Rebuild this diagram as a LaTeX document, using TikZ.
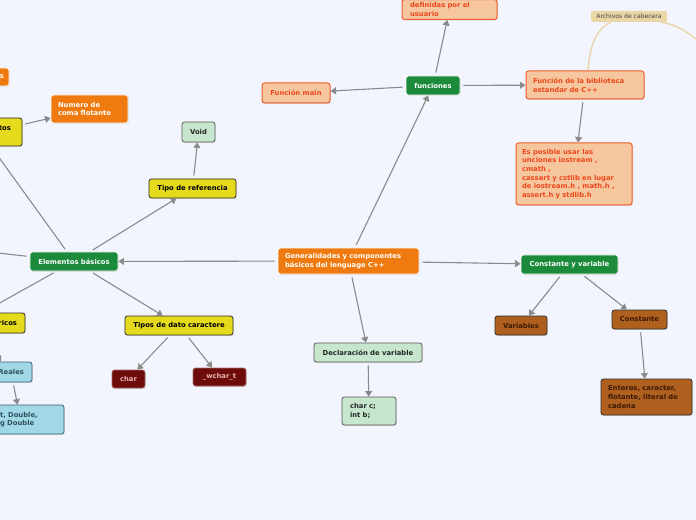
\documentclass[tikz,border=0pt]{standalone}
\usepackage{fontspec}
\setmainfont{DejaVu Sans}
\usetikzlibrary{arrows.meta,shadows}
\definecolor{bg}{HTML}{F2F5FD}
\definecolor{orng}{HTML}{EF7A10}
\definecolor{grn}{HTML}{1B8A3A}
\definecolor{yel}{HTML}{E6DA1C}
\definecolor{lgrn}{HTML}{C6E7CD}
\definecolor{peach}{HTML}{F6C79E}
\definecolor{peachline}{HTML}{EF5A2A}
\definecolor{peachtext}{HTML}{EC471C}
\definecolor{brwn}{HTML}{B0601E}
\definecolor{brwntext}{HTML}{3B1A05}
\definecolor{dred}{HTML}{6E0B0B}
\definecolor{dredtext}{HTML}{E6B4B4}
\definecolor{lblue}{HTML}{A0D8E6}
\definecolor{lbluetext}{HTML}{2F4F5F}
\definecolor{lblueline}{HTML}{3E5E70}
\definecolor{tan}{HTML}{EBD7A6}
\definecolor{tanline}{HTML}{EBD4A8}
\definecolor{conn}{HTML}{8A8A8A}
\definecolor{darkedge}{HTML}{2E2E2E}
\tikzset{
  base/.style={rounded corners=2.5bp, line width=0.8bp, inner xsep=7bp, inner ysep=2bp,
    anchor=center, drop shadow={shadow xshift=0.7bp, shadow yshift=-0.9bp, opacity=0.25}},
  orangebox/.style={base, fill=orng, draw=white, text=white},
  greenbox/.style={base, fill=grn, draw=white, text=white},
  yellowbox/.style={base, fill=yel, draw=darkedge, text=black},
  lgreenbox/.style={base, fill=lgrn, draw=darkedge!80, text=black!85},
  peachbox/.style={base, fill=peach, draw=peachline, text=peachtext, line width=1bp},
  brownbox/.style={base, fill=brwn, draw=darkedge, text=brwntext},
  redbox/.style={base, fill=dred, draw=dred!60!white, text=dredtext},
  bluebox/.style={base, fill=lblue, draw=lblueline, text=lbluetext},
  tagbox/.style={rounded corners=1.5bp, fill=tan, inner xsep=2bp, inner ysep=1bp,
    font=\fontsize{6.1}{7}\selectfont, text=black!75},
  conn/.style={draw=conn, line width=1.1bp, shorten <=3bp,
    -{Triangle[length=5.5bp, width=7bp]}},
  tanconn/.style={draw=tanline, line width=1.4bp}
}
\begin{document}
\begin{tikzpicture}[x=1bp, y=-1bp, font=\fontsize{6.85}{8.7}\selectfont\bfseries]
\useasboundingbox (0,0) rectangle (696,520);
\clip (0,0) rectangle (696,520);
\fill[bg] (0,0) rectangle (696,520);

% central
\node[orangebox, align=left, text width=127bp, inner xsep=7bp, minimum height=26bp] (gen) at (348.5,261) {Generalidades y componentes\\básicos del lenguage C++};

% top branch
\node[greenbox, minimum width=54bp, minimum height=19bp] (fun) at (433,85.5) {funciones};
\node[peachbox, minimum width=68bp, minimum height=20bp] (main) at (296,93) {Función main};
\node[peachbox, align=left, text width=79bp, inner xsep=8bp, anchor=south, inner ysep=3bp] (def) at (449.5,20) {definidas por el\\usuario};
\node[peachbox, align=left, text width=104bp, inner xsep=7bp, minimum height=28bp] (bib) at (585,85) {Función de la biblioteca\\estandar de C++};
\node[peachbox, align=left, text width=104bp, inner xsep=6bp, minimum height=62bp] (pos) at (574,174) {Es posible usar las\\unciones iostream ,\\cmath ,\\cassert y cstlib en lugar\\de iostream.h , math.h ,\\assert.h y stdlib.h};
\node[tagbox, minimum width=76bp, minimum height=11bp] (arch) at (629,16.5) {Archivos de cabecera};
\coordinate (archend) at (708,50);

% right branch
\node[greenbox, minimum width=97bp, minimum height=19bp] (cyv) at (569.5,264.5) {Constante y variable};
\node[brownbox, minimum width=52bp, minimum height=19bp] (var) at (521,325.5) {Variables};
\node[brownbox, minimum width=55bp, minimum height=19bp] (cons) at (639.5,319.5) {Constante};
\node[brownbox, align=left, text width=77bp, inner xsep=7bp, minimum height=36bp] (ent) at (646.5,397) {Enteros, caracter,\\flotante, literal de\\cadena};

% bottom branch
\node[lgreenbox, minimum width=108bp, minimum height=19bp] (decl) at (368,352.5) {Declaración de variable};
\node[lgreenbox, align=left, text width=38bp, inner xsep=8bp, minimum height=28bp] (cc) at (369,411) {char c;\\int b;};

% left branch
\node[greenbox, minimum width=88bp, minimum height=19bp] (elem) at (74,261.5) {Elementos básicos};
\node[yellowbox, minimum width=87bp, minimum height=19bp] (tref) at (192.5,188.5) {Tipo de referencia};
\node[lgreenbox, minimum width=33bp, minimum height=20bp] (void) at (198.5,132) {Void};
\node[yellowbox, minimum width=108bp, minimum height=19bp] (tcar) at (179,325.5) {Tipos de dato caractere};
\node[redbox, minimum width=33bp, minimum height=18bp] (char) at (128.5,379) {char};
\node[redbox, minimum width=53bp, minimum height=18bp] (wchar) at (219.5,377) {\_wchar\_t};
\node[yellowbox, align=right, text width=40bp, inner xsep=11bp, minimum height=28bp] (tos) at (-9,132) {tos\\\mbox{}};
\node[orangebox, align=left, text width=63bp, inner xsep=7bp, minimum height=28bp] (flot) at (89.5,109) {Numero de\\coma flotante};
\node[orangebox, align=right, text width=29bp, inner xsep=5bp, minimum height=18bp] (sbox) at (-10.5,77) {s};
\node[yellowbox, align=right, text width=69bp, inner xsep=8bp, minimum height=20bp] (ric) at (-17.5,323) {ricos};
\node[bluebox, align=right, text width=46bp, inner xsep=8bp, minimum height=20bp] (real) at (1,372) {Reales};
\node[bluebox, align=left, text width=57bp, inner xsep=7bp, minimum height=29bp] (flt) at (28.5,419.5) {t, Double,\\g Double};
\coordinate (leftend) at (-20,251);

% connectors
\draw[conn] (gen) -- (elem);
\draw[conn] (gen) -- (fun);
\draw[conn] (gen) -- (cyv);
\draw[conn] (gen) -- (decl);
\draw[conn] (fun) -- (main);
\draw[conn] (fun) -- (def);
\draw[conn] (fun) -- (bib);
\draw[conn] (bib) -- (pos);
\draw[conn] (cyv) -- (var);
\draw[conn] (cyv) -- (cons);
\draw[conn] (cons) -- (ent);
\draw[conn] (decl) -- (cc);
\draw[conn] (elem) -- (tref);
\draw[conn] (tref) -- (void);
\draw[conn] (elem) -- (tcar);
\draw[conn] (tcar) -- (char);
\draw[conn] (tcar) -- (wchar);
\draw[conn] (elem) -- (tos.south);
\draw[conn] (elem) -- (leftend);
\draw[conn] (elem) -- (ric.north);
\draw[conn] (tos) -- (flot);
\draw[conn] (ric.south) -- (real.north);
\draw[conn] ([xshift=12bp]real.south) -- ([xshift=-11bp]flt.north);

% tan curves
\draw[tanconn] ([xshift=3bp]bib.north) .. controls (590,42) and (598,28) .. ([xshift=-18bp]arch.south);
\draw[tanconn, -{Triangle[length=5bp,width=6bp]}] ([xshift=32bp]arch.south) .. controls (676,24) and (690,33) .. (archend);
\end{tikzpicture}
\end{document}
